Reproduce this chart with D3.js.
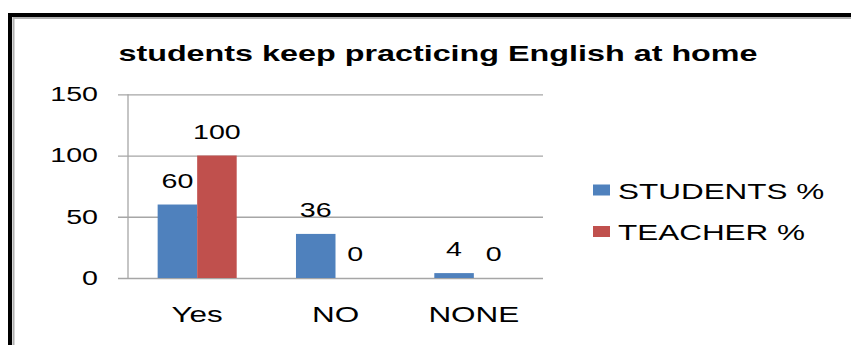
<html lang="en">
<head>
    <meta charset="UTF-8">
    <title>students keep practicing English at home</title>
    <script src="https://d3js.org/d3.v7.min.js"></script>
    <style>
        body { margin: 0; background: #fff; }
        text { font-family: "Liberation Sans", Arial, sans-serif; fill: #000; }
    </style>
</head>
<body>
    <div class="chart"></div>

    <script>
        // data
        const categories = ["Yes", "NO", "NONE"];
        const seriesNames = ["STUDENTS %", "TEACHER %"];
        const studentValues = [60, 36, 4];
        const teacherValues = [100, 0, 0];
        const yTicks = [0, 50, 100, 150];
        const colors = ["#4F81BD", "#C0504D"];

        const W = 851, H = 345;
        const plot = {left: 128, right: 543, top: 94.3, bottom: 278};
        const stretchK = 1.43; // the source picture is squeezed wide

        const rows = categories.map((c, i) => ({cat: c, values: [studentValues[i], teacherValues[i]]}));

        const svg = d3.select('.chart').append('svg')
            .attr("width", W)
            .attr("height", H);

        svg.append("rect").attr("width", W).attr("height", H).attr("fill", "#fff");

        // frame (cut off at right and bottom)
        svg.append("rect")
            .attr("x", 10).attr("y", 15).attr("width", 1000).attr("height", 500)
            .attr("fill", "none").attr("stroke", "#000").attr("stroke-width", 4);
        svg.append("rect")
            .attr("x", 13.5).attr("y", 18).attr("width", 1000).attr("height", 500)
            .attr("fill", "none").attr("stroke", "#b0b0b0").attr("stroke-width", 2);

        function stretch(sel) {
            sel.each(function() {
                const w = this.getComputedTextLength();
                this.setAttribute("textLength", w * stretchK);
                this.setAttribute("lengthAdjust", "spacingAndGlyphs");
            });
        }

        const x0 = d3.scaleBand()
            .domain(categories)
            .range([plot.left, plot.right])
            .padding(0);

        const x1 = d3.scaleBand()
            .domain(d3.range(seriesNames.length))
            .range([0, x0.bandwidth()])
            .paddingInner(0)
            .paddingOuter(0.75);

        const y = d3.scaleLinear()
            .domain([0, 150])
            .range([plot.bottom, plot.top]);

        // gridlines + y labels
        const yAxis = d3.axisLeft(y)
            .tickValues(yTicks)
            .tickSize(-(plot.right - plot.left + 10))
            .tickPadding(20);

        const gy = svg.append("g")
            .attr("class", "y-axis")
            .attr("transform", `translate(${plot.left - 10},0)`)
            .call(yAxis);
        gy.select(".domain").remove();
        gy.selectAll(".tick line").attr("stroke", "#a6a6a6").attr("stroke-width", 1.3);
        gy.selectAll(".tick text")
            .attr("font-size", "20px")
            .attr("font-family", "Liberation Sans, Arial, sans-serif")
            .attr("fill", "#000")
            .call(stretch);

        svg.append("line")
            .attr("x1", plot.left).attr("x2", plot.left)
            .attr("y1", y(150)).attr("y2", y(0))
            .attr("stroke", "#a6a6a6").attr("stroke-width", 1.3);

        // category labels
        const xAxis = d3.axisBottom(x0).tickSize(0).tickPadding(28);
        const gx = svg.append("g")
            .attr("class", "x-axis")
            .attr("transform", `translate(0,${plot.bottom})`)
            .call(xAxis);
        gx.select(".domain").remove();
        gx.selectAll(".tick text")
            .attr("font-size", "22px")
            .attr("font-family", "Liberation Sans, Arial, sans-serif")
            .attr("fill", "#000")
            .call(stretch);

        // bars
        const groups = svg.selectAll(".grp")
            .data(rows)
            .join("g")
            .attr("class", "grp")
            .attr("transform", d => `translate(${x0(d.cat)},0)`);

        groups.selectAll("rect")
            .data(d => d.values.map((v, i) => ({v, i})))
            .join("rect")
            .attr("x", d => x1(d.i))
            .attr("y", d => y(d.v))
            .attr("width", x1.bandwidth())
            .attr("height", d => y(0) - y(d.v))
            .attr("fill", d => colors[d.i]);

        groups.selectAll("text")
            .data(d => d.values.map((v, i) => ({v, i})))
            .join("text")
            .attr("x", d => x1(d.i) + x1.bandwidth() / 2)
            .attr("y", d => y(d.v) - 17)
            .attr("text-anchor", "middle")
            .attr("font-size", "20px")
            .text(d => d.v)
            .call(stretch);

        // title
        svg.append("text")
            .attr("x", 438)
            .attr("y", 61)
            .attr("text-anchor", "middle")
            .attr("font-size", "22.6px")
            .attr("font-weight", "bold")
            .text("students keep practicing English at home")
            .call(stretch);

        // legend
        const legend = svg.append("g").attr("transform", "translate(593,0)");
        const items = legend.selectAll("g")
            .data(seriesNames)
            .join("g")
            .attr("transform", (d, i) => `translate(0,${198.5 + i * 41.5})`);
        items.append("rect")
            .attr("x", 0).attr("y", -14)
            .attr("width", 17).attr("height", 11)
            .attr("fill", (d, i) => colors[i]);
        items.append("text")
            .attr("x", 25)
            .attr("y", 0)
            .attr("font-size", "22px")
            .text(d => d)
            .call(stretch);
    </script>
</body>
</html>
